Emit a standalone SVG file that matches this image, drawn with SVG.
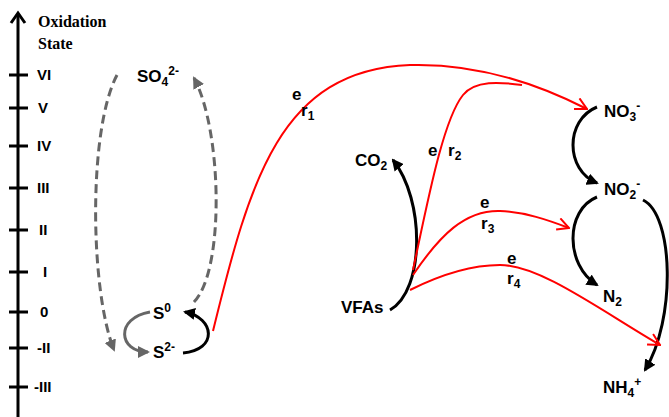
<svg xmlns="http://www.w3.org/2000/svg" width="669" height="417" viewBox="0 0 669 417">
<style>
.ax{stroke:#000;stroke-width:3;fill:none}
.lbl{font-family:"Liberation Sans",Arial,sans-serif;font-weight:bold;font-size:15px;fill:#000}
.ser{font-family:"Liberation Serif","Times New Roman",serif;font-weight:bold;font-size:16px;fill:#000}
.chem{font-family:"Liberation Sans",Arial,sans-serif;font-weight:bold;font-size:17px;fill:#000}
.small{font-size:12px}
.blk{stroke:#000;stroke-width:3;fill:none;marker-end:url(#ab)}
.gry{stroke:#666;stroke-width:3;fill:none;marker-end:url(#ag)}
.dash{stroke-dasharray:9,5}
.red{stroke:#f00;stroke-width:2;fill:none}
.redA{marker-end:url(#ar)}
</style>
<defs>
<marker id="ab" markerUnits="userSpaceOnUse" viewBox="0 0 12 12" refX="10" refY="6" markerWidth="12" markerHeight="12" orient="auto"><path d="M0,0 L12,6 L0,12 Z" fill="#000"/></marker>
<marker id="ag" markerUnits="userSpaceOnUse" viewBox="0 0 12 12" refX="10" refY="6" markerWidth="12" markerHeight="12" orient="auto"><path d="M0,0 L12,6 L0,12 Z" fill="#666"/></marker>
<marker id="ar" markerUnits="userSpaceOnUse" viewBox="0 0 14 14" refX="12.5" refY="7" markerWidth="14" markerHeight="14" orient="auto"><path d="M1,1 L12.5,7 L1,13" fill="none" stroke="#f00" stroke-width="2"/></marker>
</defs>
<g id="axis">
<line class="ax" x1="18" y1="14" x2="18" y2="417"/>
<path class="ax" d="M11,23 L18,13 L25,23" stroke-width="3"/>
<path class="ax" d="M9,75H28M9,108H28M9,146H28M9,188H28M9,230H28M9,272H28M9,312H28M9,348H28M9,387H28"/>
<text class="ser" x="38" y="27">Oxidation</text>
<text class="ser" x="38" y="49">State</text>
<text class="lbl" x="37" y="80">VI</text>
<text class="lbl" x="38" y="113">V</text>
<text class="lbl" x="37" y="151">IV</text>
<text class="lbl" x="37" y="193">III</text>
<text class="lbl" x="39" y="235">II</text>
<text class="lbl" x="43" y="277">I</text>
<text class="lbl" x="40" y="317">0</text>
<text class="lbl" x="37" y="353">-II</text>
<text class="lbl" x="34" y="392">-III</text>
</g>
<g id="connectors">
<path class="gry dash" d="M117,75 C88,130 90,290 114,350"/>
<path class="gry dash" d="M194,302 C225,270 222,130 194,78"/>
<path class="gry" d="M150,312 C115,318 118,352 148,352"/>
<path class="blk" d="M183,353 C218,350 215,318 185,312"/>
<path class="blk" d="M390,310 C425,290 425,200 393,160"/>
<path class="blk" d="M597,107 C565,120 565,170 597,183"/>
<path class="blk" d="M597,197 C565,210 565,265 597,285"/>
<path class="blk" d="M643,200 C674,215 676,320 645,370"/>
<path class="red redA" d="M213,331 C250,180 280,70 410,65 C480,63 540,85 587,109"/>
<path class="red" d="M413,270 C428,200 443,120 463,95 C475,80 500,82 522,85"/>
<path class="red redA" d="M413,275 C440,235 465,210 500,211 C525,212 548,220 569,228"/>
<path class="red redA" d="M410,290 C440,275 470,265 500,265 C540,265 600,310 660,345"/>
<text class="chem" x="292" y="100" font-size="16">e</text>
<text class="chem" x="301" y="116" font-size="16">r<tspan class="small" dy="4">1</tspan></text>
<text class="chem" x="428" y="156" font-size="16">e</text>
<text class="chem" x="448" y="156" font-size="16">r<tspan class="small" dy="4">2</tspan></text>
<text class="chem" x="480" y="208" font-size="16">e</text>
<text class="chem" x="481" y="229" font-size="16">r<tspan class="small" dy="4">3</tspan></text>
<text class="chem" x="507" y="264" font-size="16">e</text>
<text class="chem" x="507" y="284" font-size="16">r<tspan class="small" dy="4">4</tspan></text>
</g>
<g id="SO4"><text class="chem" x="137" y="82">SO<tspan class="small" dy="4">4</tspan><tspan class="small" dy="-11">2-</tspan></text></g>
<g id="S0"><text class="chem" x="153" y="319">S<tspan class="small" dy="-7">0</tspan></text></g>
<g id="S2"><text class="chem" x="153" y="358">S<tspan class="small" dy="-7">2-</tspan></text></g>
<g id="CO2"><text class="chem" x="355" y="166">CO<tspan class="small" dy="4">2</tspan></text></g>
<g id="VFAs"><text class="chem" x="341" y="313">VFAs</text></g>
<g id="NO3"><text class="chem" x="604" y="117">NO<tspan class="small" dy="4">3</tspan><tspan class="small" dy="-11">-</tspan></text></g>
<g id="NO2"><text class="chem" x="604" y="195">NO<tspan class="small" dy="4">2</tspan><tspan class="small" dy="-11">-</tspan></text></g>
<g id="N2"><text class="chem" x="603" y="302">N<tspan class="small" dy="4">2</tspan></text></g>
<g id="NH4"><text class="chem" x="603" y="393">NH<tspan class="small" dy="4">4</tspan><tspan class="small" dy="-11">+</tspan></text></g>
</svg>
